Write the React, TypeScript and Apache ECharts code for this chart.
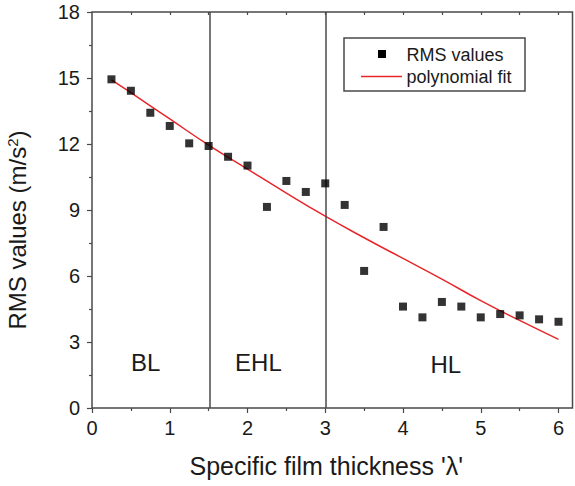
import React, { useEffect, useRef } from "react";
import * as echarts from "echarts";

const rmsX = [0.25, 0.5, 0.75, 1.0, 1.25, 1.5, 1.75, 2.0, 2.25, 2.5, 2.75, 3.0, 3.25, 3.5, 3.75, 4.0, 4.25, 4.5, 4.75, 5.0, 5.25, 5.5, 5.75, 6.0];
const rmsY = [14.94, 14.42, 13.42, 12.82, 12.03, 11.91, 11.42, 11.02, 9.14, 10.32, 9.82, 10.21, 9.23, 6.23, 8.23, 4.61, 4.12, 4.82, 4.61, 4.12, 4.27, 4.21, 4.03, 3.92];

const fitX = [0.25, 0.5, 1, 1.5, 2, 2.5, 3, 3.5, 4, 4.5, 5, 5.5, 6];
const fitY = [14.92, 14.33, 13.14, 11.95, 10.86, 9.77, 8.72, 7.74, 6.8, 5.86, 4.88, 3.98, 3.12];

const regionBounds = [1.52, 3.0];
const regionNames = ["BL", "EHL", "HL"];
const regionX = [0.69, 2.14, 4.55];
const regionY = [2.05, 2.05, 2.0];

const xMajorTicks = [0, 1, 2, 3, 4, 5, 6];
const xMinorTicks = [0.5, 1.5, 2.5, 3.5, 4.5, 5.5];
const xTopTicks = [0.5, 1, 1.5, 2, 2.5, 3, 3.5, 4, 4.5, 5, 5.5, 6];

const seriesNames = ["RMS values", "polynomial fit"];
const xTitle = "Specific film thickness 'λ'";
const yTitle = "RMS values (m/s{sup|2})";

const FONT = "'Liberation Sans', Arial, Helvetica, sans-serif";
const AXIS_COLOR = "#4a4a4a";
const TEXT_COLOR = "#1a1a1a";
const FIT_COLOR = "#e8262a";

export default function App() {
  const ref = useRef<HTMLDivElement>(null);

  useEffect(() => {
    document.body.style.margin = "0";
    if (!ref.current) return;
    const chart = echarts.init(ref.current, null, { renderer: "svg" });

    const xMin = 0;
    const xMax = 6.18;
    const tickLine = { color: AXIS_COLOR, width: 1.2 };

    const option: any = {
      animation: false,
      backgroundColor: "#ffffff",
      textStyle: { fontFamily: FONT },
      grid: {
        left: 92,
        right: 2.5,
        top: 12,
        bottom: 78,
        containLabel: false,
        outerBoundsMode: "none",
        show: true,
        borderColor: AXIS_COLOR,
        borderWidth: 1.5,
        backgroundColor: "transparent",
      },
      xAxis: [
        {
          type: "value",
          position: "bottom",
          min: xMin,
          max: xMax,
          axisLine: { show: false },
          axisTick: { show: true, inside: false, length: 5, customValues: xMajorTicks, lineStyle: tickLine },
          axisLabel: { customValues: xMajorTicks, fontSize: 20, margin: 10, color: TEXT_COLOR, fontFamily: FONT },
          splitLine: { show: false },
          name: xTitle,
          nameLocation: "middle",
          nameGap: 45,
          nameTextStyle: { fontSize: 25, color: TEXT_COLOR, fontFamily: FONT, padding: [0, 12, 0, 0] },
        },
        {
          type: "value",
          position: "bottom",
          min: xMin,
          max: xMax,
          axisLine: { show: false },
          axisTick: { show: true, inside: false, length: 3, customValues: xMinorTicks, lineStyle: tickLine },
          axisLabel: { show: false },
          splitLine: { show: false },
        },
        {
          type: "value",
          position: "top",
          min: xMin,
          max: xMax,
          axisLine: { show: false },
          axisTick: { show: true, inside: true, length: 3, customValues: xTopTicks, lineStyle: tickLine },
          axisLabel: { show: false },
          splitLine: { show: false },
        },
      ],
      yAxis: [
        {
          type: "value",
          min: 0,
          max: 18,
          interval: 3,
          axisLine: { show: false },
          axisTick: { show: true, inside: false, length: 5, lineStyle: tickLine },
          minorTick: { show: true, splitNumber: 2, length: 3, lineStyle: tickLine },
          axisLabel: { fontSize: 20, margin: 12, color: TEXT_COLOR, fontFamily: FONT },
          splitLine: { show: false },
          minorSplitLine: { show: false },
          name: yTitle,
          nameLocation: "middle",
          nameRotate: 90,
          nameGap: 62,
          nameTextStyle: {
            fontSize: 24,
            color: TEXT_COLOR,
            fontFamily: FONT,
            padding: [0, 40, 0, 0],
            rich: {
              sup: { fontSize: 15, color: TEXT_COLOR, fontFamily: FONT, verticalAlign: "top", padding: [0, 0, 10, 0] },
            },
          },
        },
      ],
      series: [
        {
          name: seriesNames[0],
          type: "scatter",
          symbol: "rect",
          symbolSize: 8,
          itemStyle: { color: "#000000" },
          data: rmsX.map((x, i) => [x, rmsY[i]]),
          z: 5,
        },
        {
          name: seriesNames[1],
          type: "line",
          smooth: true,
          showSymbol: false,
          symbol: "none",
          lineStyle: { color: FIT_COLOR, width: 1.5 },
          itemStyle: { color: FIT_COLOR },
          data: fitX.map((x, i) => [x, fitY[i]]),
          z: 4,
          markLine: {
            silent: true,
            symbol: ["none", "none"],
            label: { show: false },
            lineStyle: { color: AXIS_COLOR, width: 1.5, type: "solid" },
            data: regionBounds.map((v) => ({ xAxis: v })),
          },
        },
        {
          name: "regions",
          type: "scatter",
          symbolSize: 0,
          silent: true,
          itemStyle: { color: TEXT_COLOR },
          data: regionX.map((x, i) => [x, regionY[i], regionNames[i]]),
          label: {
            show: true,
            position: "inside",
            formatter: (p: any) => p.data[2],
            fontSize: 24,
            color: TEXT_COLOR,
            textBorderWidth: 0,
            opacity: 1,
            fontFamily: FONT,
          },
        },
      ],
      graphic: [
        {
          type: "rect",
          shape: { x: 344, y: 38, width: 181, height: 53 },
          style: { fill: "#ffffff", stroke: AXIS_COLOR, lineWidth: 1.5 },
          z: 10,
        },
        {
          type: "rect",
          shape: { x: 378, y: 50, width: 8, height: 8 },
          style: { fill: "#000000" },
          z: 11,
        },
        {
          type: "text",
          x: 406.5,
          y: 54.5,
          style: { text: seriesNames[0], fontSize: 18, fill: TEXT_COLOR, fontFamily: FONT, verticalAlign: "middle" },
          z: 11,
        },
        {
          type: "line",
          shape: { x1: 361, y1: 76.5, x2: 402, y2: 76.5 },
          style: { stroke: FIT_COLOR, lineWidth: 1.5 },
          z: 11,
        },
        {
          type: "text",
          x: 406.5,
          y: 76.5,
          style: { text: seriesNames[1], fontSize: 18, fill: TEXT_COLOR, fontFamily: FONT, verticalAlign: "middle" },
          z: 11,
        },
      ],
    };

    chart.setOption(option);
    return () => {
      chart.dispose();
    };
  }, []);

  return <div ref={ref} style={{ width: 575, height: 486 }} />;
}
